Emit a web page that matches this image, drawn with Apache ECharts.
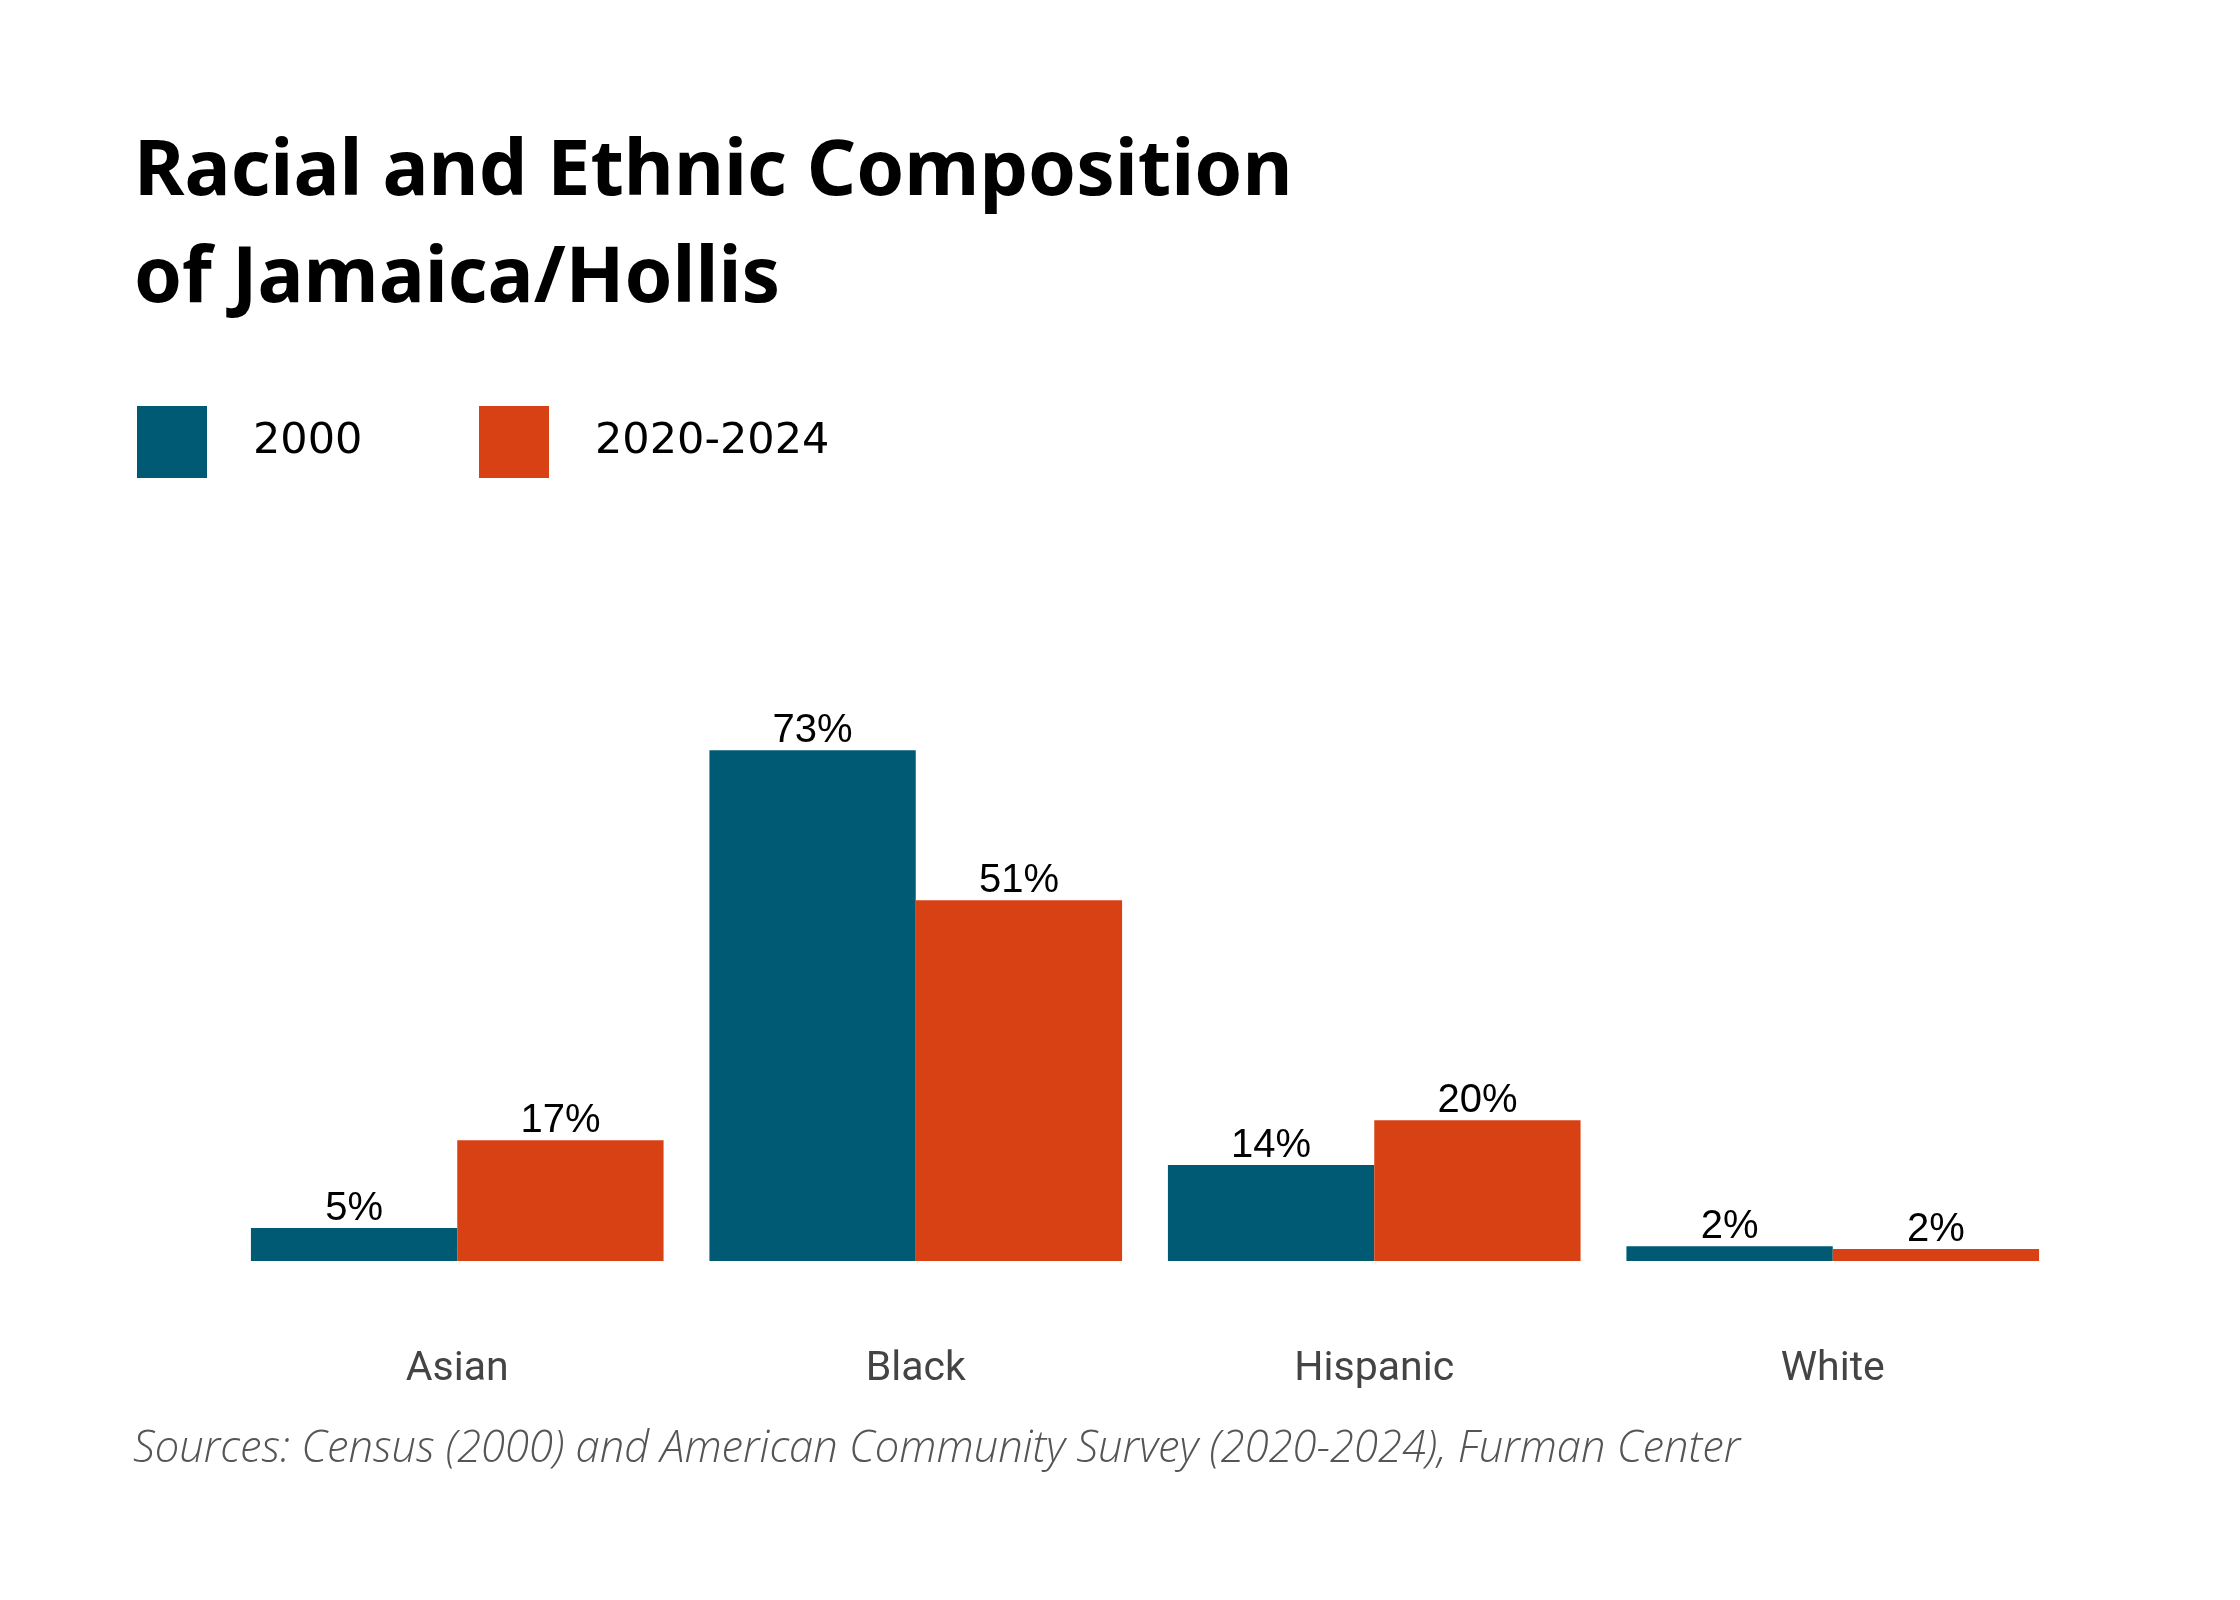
<!DOCTYPE html>
<html lang="en">
<head>
    <meta charset="UTF-8">
    <title>Racial and Ethnic Composition of Jamaica/Hollis</title>
    <script src="https://cdn.jsdelivr.net/npm/echarts@6/dist/echarts.min.js"></script>
    <style>
        html, body { margin: 0; padding: 0; background: #fff; }
        #chart { width: 2240px; height: 1600px; }
    </style>
</head>
<body>
    <div id="chart"></div>
    <script>
        // data
        const groups = ['Asian', 'Black', 'Hispanic', 'White'];
        const share2000 = [4.7, 72.7, 13.65, 2.1];
        const share2020 = [17.2, 51.35, 20.05, 1.7];
        const seriesNames = ['2000', '2020-2024'];

        const blue = '#015a74';
        const orange = '#d74113';

        const chart = echarts.init(document.getElementById('chart'));

        const labelStyle = {
            show: true,
            position: 'top',
            distance: -1,
            fontFamily: 'Liberation Sans',
            fontSize: 40,
            color: '#000',
            formatter: p => Math.round(p.value) + '%'
        };

        const legendText = {
            fontFamily: 'DejaVu Sans',
            fontSize: 43,
            color: '#000',
            padding: [0, 0, 0, 41]
        };

        chart.setOption({
            animation: false,
            title: [
                {
                    text: 'Racial and Ethnic Composition\nof Jamaica/Hollis',
                    left: 134,
                    top: 120,
                    padding: 0,
                    textStyle: {
                        fontFamily: 'Noto Sans',
                        fontWeight: 'bold',
                        fontSize: 77,
                        lineHeight: 107,
                        color: '#000'
                    }
                },
                {
                    text: 'Sources: Census (2000) and American Community Survey (2020-2024), Furman Center',
                    left: 133,
                    top: 1428,
                    padding: 0,
                    textStyle: {
                        fontFamily: 'Open Sans',
                        fontStyle: 'italic',
                        fontWeight: 300,
                        fontSize: 43.5,
                        color: '#555'
                    }
                }
            ],
            legend: [
                {
                    data: [seriesNames[0]],
                    left: 137,
                    top: 406,
                    padding: 0,
                    icon: 'rect',
                    itemWidth: 70,
                    itemHeight: 72,
                    textStyle: legendText
                },
                {
                    data: [seriesNames[1]],
                    left: 479,
                    top: 406,
                    padding: 0,
                    icon: 'rect',
                    itemWidth: 70,
                    itemHeight: 72,
                    textStyle: legendText
                }
            ],
            grid: { left: 228, right: 178, top: 699, bottom: 339, containLabel: false },
            xAxis: {
                type: 'category',
                data: groups,
                axisLine: { show: false },
                axisTick: { show: false },
                axisLabel: {
                    margin: 88,
                    fontFamily: 'Roboto',
                    fontSize: 41,
                    color: '#444'
                }
            },
            yAxis: {
                type: 'value',
                min: 0,
                max: 80,
                show: false
            },
            series: [
                {
                    name: seriesNames[0],
                    type: 'bar',
                    data: share2000,
                    barGap: '0%',
                    barCategoryGap: '10%',
                    itemStyle: { color: blue },
                    label: labelStyle
                },
                {
                    name: seriesNames[1],
                    type: 'bar',
                    data: share2020,
                    itemStyle: { color: orange },
                    label: labelStyle
                }
            ]
        });
    </script>
</body>
</html>
